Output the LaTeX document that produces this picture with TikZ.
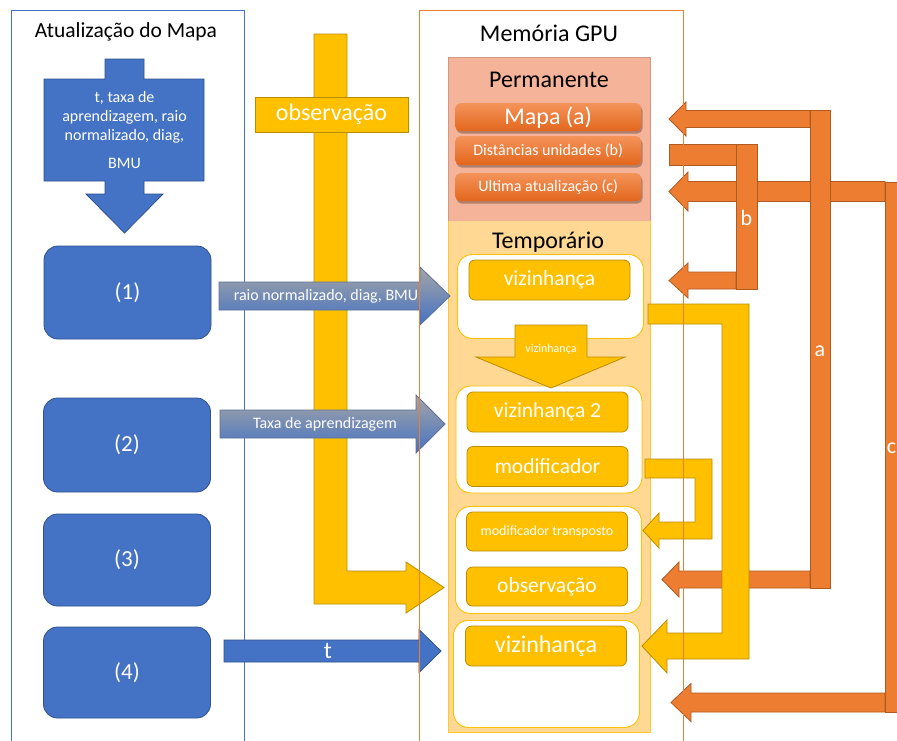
\documentclass[tikz,border=0pt]{standalone}
\usepackage{fontspec}
\setmainfont{Carlito}
\usetikzlibrary{calc}

\definecolor{cblue}{HTML}{4472C4}
\definecolor{cblueD}{HTML}{2F528F}
\definecolor{corange}{HTML}{ED7D31}
\definecolor{corangeD}{HTML}{AE5A21}
\definecolor{corangeT}{HTML}{F4935A}
\definecolor{corangeB}{HTML}{E2661C}
\definecolor{cyellow}{HTML}{FFC000}
\definecolor{cyellowD}{HTML}{BC8C00}
\definecolor{cperm}{HTML}{F5B49A}
\definecolor{ctemp}{HTML}{FFD993}
\definecolor{cgray}{HTML}{A5A5A5}
\definecolor{cgrayblue}{HTML}{5F7198}

\newcommand\fs[1]{\fontsize{#1}{1.2\dimexpr#1pt\relax}\selectfont}

% left-pointing block arrow: tip x, head base x, tail x, centre y, half shaft, half head
\newcommand\blockleft[6]{%
  (#3,#4-#5) -- (#2,#4-#5) -- (#2,#4-#6) -- (#1,#4) -- (#2,#4+#6)
  -- (#2,#4+#5) -- (#3,#4+#5) -- cycle}
% right-pointing block arrow: tail x, head base x, tip x, centre y, half shaft, half head
\newcommand\blockright[6]{%
  (#1,#4-#5) -- (#2,#4-#5) -- (#2,#4-#6) -- (#3,#4) -- (#2,#4+#6)
  -- (#2,#4+#5) -- (#1,#4+#5) -- cycle}

\tikzset{
  panel/.style={draw, line width=0.9pt, fill=white, anchor=north west, inner sep=0pt},
  stepbox/.style={rounded corners=14pt, fill=cblue, draw=cblueD, line width=0.8pt,
    minimum width=167pt, text=white, inner sep=0pt, font=\fs{23}},
  ybox/.style={rounded corners=6pt, fill=cyellow, draw=cyellowD, line width=0.8pt,
    minimum width=161pt, minimum height=40pt, text=white, inner sep=0pt},
  wbox/.style={rounded corners=15pt, fill=white, draw=cyellow, line width=0.9pt,
    minimum width=186pt, inner sep=0pt, anchor=north west},
  obox/.style={rounded corners=5pt, top color=corangeT, bottom color=corangeB,
    draw=none, minimum width=186pt, text=white, inner sep=0pt, anchor=north west},
  oshadow/.style={rounded corners=5pt, fill=black, opacity=0.28},
  oarrow/.style={fill=corange, draw=corangeD, line width=0.8pt, line join=miter},
  yarrow/.style={fill=cyellow, draw=cyellowD, line width=0.8pt, line join=miter},
  garrow/.style={top color=cgray, bottom color=cblue, draw=cgrayblue, line width=0.8pt},
  lbl/.style={text=white, inner sep=0pt},
}

\begin{document}
\begin{tikzpicture}[x=1pt,y=-1pt]
\clip (0,0) rectangle (897,740);
\fill[white] (0,0) rectangle (897,740);

% ---------- left panel: map update ----------
\node[panel, draw=cblue, minimum width=233pt, minimum height=760pt] (atual) at (11,10) {};
\node[font=\fs{21.5}, inner sep=0pt] (tatual) at (126,32) {Atualização do Mapa};

% down arrow callout with the parameters
\filldraw[fill=cblue, draw=cblueD, line width=0.8pt, line join=miter]
  (105,59) -- (144,59) -- (144,79) -- (204,79) -- (204,181) -- (144,181) -- (144,194)
  -- (163,194) -- (124.5,233) -- (86,194) -- (105,194) -- (105,181) -- (44,181)
  -- (44,79) -- (105,79) -- cycle;
\node[lbl, align=center, font=\fs{16}] (params) at (124.5,130)
  {\fontsize{16}{19.3}\selectfont t, taxa de\\aprendizagem, raio\\normalizado, diag,\\[8.5pt]BMU};

\node[stepbox, minimum height=93pt] (s1) at (127.5,292.5) {(1)};
\node[stepbox, minimum height=94pt] (s2) at (127,445) {(2)};
\node[stepbox, minimum height=92pt] (s3) at (127,560) {(3)};
\node[stepbox, minimum height=91pt] (s4) at (127,672.5) {(4)};

% ---------- GPU memory panel ----------
\node[panel, draw=corange, minimum width=264pt, minimum height=760pt] (gpu) at (419,10) {};
\node[font=\fs{24}, inner sep=0pt] (tgpu) at (549,33) {Memória GPU};

\fill[cperm] (448,57) rectangle (650,221);
\fill[ctemp] (448,221) rectangle (650,732);
\draw[cperm!85!black, line width=0.4pt] (448,221) -- (448,57) -- (650,57) -- (650,221);
\draw[cyellow!70!ctemp, line width=0.6pt] (448,221) -- (448,732) -- (650,732) -- (650,221);
\node[font=\fs{24}, inner sep=0pt] (tperm) at (549,80) {Permanente};
\node[font=\fs{24}, inner sep=0pt] (ttemp) at (548,242) {Temporário};

% permanent buffers
\fill[oshadow] (456.5,105.5) rectangle (642.5,133.5);
\fill[oshadow] (456.5,138.5) rectangle (642.5,167.5);
\fill[oshadow] (456.5,175.5) rectangle (642.5,203.5);
\node[obox, minimum height=28pt, font=\fs{24}] (mapa) at (455,103) {Mapa (a)};
\node[obox, minimum height=29pt, font=\fs{16}] (dist) at (455,136) {Distâncias unidades (b)};
\node[obox, minimum height=28pt, font=\fs{16}] (ultima) at (455,173) {Ultima atualização (c)};

% temporary buffers
\node[wbox, minimum height=84pt] (w1) at (457,254) {};
\node[ybox, font=\fs{21.5}] (viz1) at (549.5,280) {vizinhança};

\node[wbox, minimum height=107pt] (w2) at (455.5,385.5) {};
\node[ybox, font=\fs{21.5}] (viz2) at (547.5,412) {vizinhança 2};
\node[ybox, font=\fs{21.5}] (modif) at (547.5,466.5) {modificador};

\node[wbox, minimum height=107pt] (w3) at (455,506) {};
\node[ybox, minimum height=39pt, font=\fs{14}] (modt) at (547,531.5) {modificador transposto};
\node[ybox, minimum height=39pt, font=\fs{21.5}] (obs2) at (547,586.5) {observação};

\node[wbox, minimum height=107pt] (w4) at (453,620) {};
\node[ybox, font=\fs{24}] (viz3) at (546,646) {vizinhança};

% neighbourhood copied into the second buffer
\filldraw[yarrow] (515,325) -- (587,325) -- (587,357) -- (625,357) -- (551,388)
  -- (476,357) -- (515,357) -- cycle;
\node[lbl, font=\fs{12}] (lviz) at (551,349) {vizinhança};

% ---------- observation stream ----------
\filldraw[yarrow] (314,34) -- (347,34) -- (347,571) -- (406,571) -- (406,562) -- (444,587.5)
  -- (406,613) -- (406,604) -- (314,604) -- cycle;
\node[fill=cyellow, draw=cyellowD, line width=0.8pt, minimum width=153pt, minimum height=35pt,
  inner sep=0pt, text=white, font=\fs{24}] (obs) at (331.5,114.5) {observação};

% ---------- parameter transfers ----------
\shade[garrow] \blockright{219}{420}{450}{296}{14}{29};
\node[lbl, font=\fs{16}] (lraio) at (326,296) {raio normalizado, diag, BMU};
\shade[garrow] \blockright{220}{416}{445}{424}{14}{29};
\node[lbl, font=\fs{16}] (ltaxa) at (325,424) {Taxa de aprendizagem};
\filldraw[fill=cblue, draw=cblueD, line width=0.8pt] \blockright{224}{419}{441}{651}{11}{21.5};
\node[lbl, font=\fs{24}] (lt) at (328,651) {t};

% ---------- permanent data links ----------
% c: last update, and back at the end
\filldraw[oarrow] \blockleft{669}{688}{885}{191.5}{10}{19.5};
\filldraw[oarrow] \blockleft{671}{691}{885}{702.5}{9.5}{19};
\filldraw[oarrow] (885,182) rectangle (907,712);
\node[lbl, font=\fs{22}] (lc) at (891.5,448) {c};

% b: unit distances to the neighbourhood
\filldraw[oarrow] (669,144) rectangle (736,165);
\filldraw[oarrow] \blockleft{669}{688}{736}{280.5}{8.5}{17.5};
\filldraw[oarrow] (736,144) rectangle (757,289);
\node[lbl, font=\fs{22}] (lb) at (746.5,218) {b};

% a: map to the observation
\filldraw[oarrow] \blockleft{669}{686}{810}{119}{8.5}{17};
\filldraw[oarrow] \blockleft{662}{679}{810}{579.5}{8.5}{17.5};
\filldraw[oarrow] (810,110) rectangle (830,588);
\node[lbl, font=\fs{22}] (la) at (820,351) {a};

% ---------- temporary links ----------
\filldraw[yarrow] (648,304) -- (749,304) -- (749,659) -- (667,659) -- (667,673) -- (642,646)
  -- (667,620) -- (667,633) -- (722,633) -- (722,324) -- (648,324) -- cycle;
\filldraw[yarrow] (645,459) -- (712,459) -- (712,539) -- (659,539) -- (659,548) -- (643,530.5)
  -- (659,513) -- (659,522) -- (695,522) -- (695,478) -- (645,478) -- cycle;

% GPU panel outline over the links
\draw[corange, line width=0.9pt] (gpu.south west) -- (gpu.north west) -- (gpu.north east) -- (gpu.south east);
\end{tikzpicture}
\end{document}
